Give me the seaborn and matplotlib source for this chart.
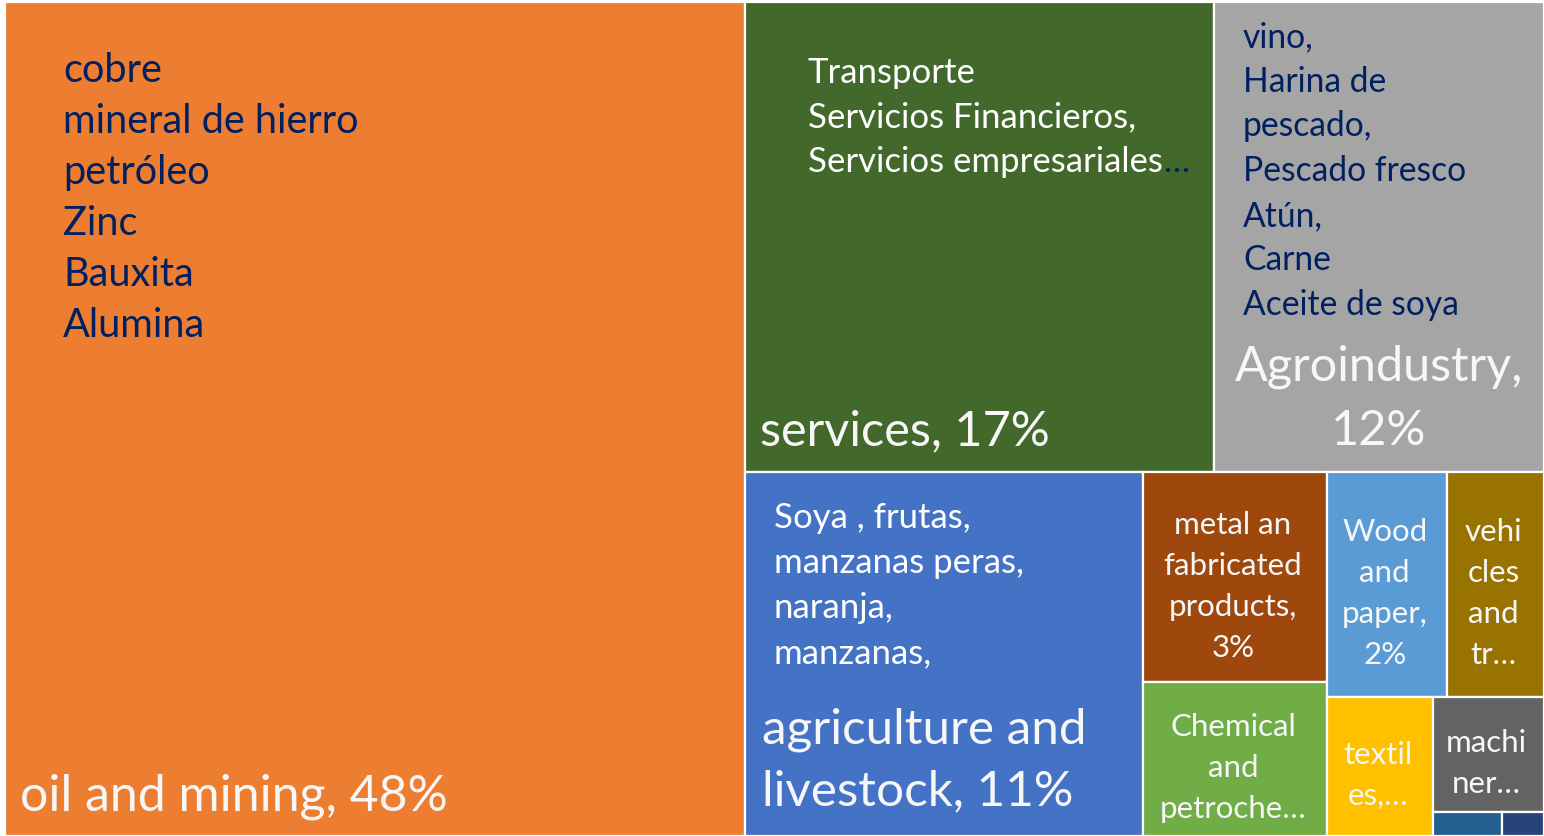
import matplotlib
matplotlib.use("Agg")
import matplotlib.pyplot as plt
import seaborn as sns
from matplotlib.patches import Rectangle

# export shares (%)
sectors = [
    "oil and mining",
    "services",
    "Agroindustry",
    "agriculture and livestock",
    "metal an fabricated products",
    "Chemical and petrochemical",
    "Wood and paper",
    "vehicles and transport",
    "textiles",
    "machinery",
    "other 1",
    "other 2",
]
shares = [48.1, 17.2, 12.1, 11.3, 3.0, 2.2, 2.1, 1.7, 1.15, 1.0, 0.13, 0.08]

# how many sectors go into each strip of the layout (as in the picture)
strips = [1, 2, 1, 2, 2, 1, 1, 1, 1]

colors = [
    "#ED7D31", "#43682B", "#A5A5A5", "#4472C4", "#9E480E", "#70AD47",
    "#5B9BD5", "#997300", "#FFC000", "#636363", "#255E91", "#264478",
]

oil_items = ["cobre", "mineral de hierro", "petróleo", "Zinc", "Bauxita", "Alumina"]
services_items = ["Transporte", "Servicios Financieros,", "Servicios empresariales"]
agro_items = ["vino,", "Harina de", "pescado,", "Pescado fresco", "Atún,", "Carne",
              "Aceite de soya"]
agri_items = ["Soya , frutas,", "manzanas peras,", "naranja,", "manzanas,"]

small_labels = {
    4: ["metal an", "fabricated", "products,", "3%"],
    5: ["Chemical", "and", "petroche…"],
    6: ["Wood", "and", "paper,", "2%"],
    7: ["vehi", "cles", "and", "tr…"],
    8: ["textil", "es,…"],
    9: ["machi", "ner…"],
}

NAVY = "#002060"
LIGHT = "#F7F7F7"


def strip_layout(areas, groups, x, y, w, h):
    # place each group as a strip along the shorter side of what is left
    rects = []
    i = 0
    for n in groups:
        chunk = areas[i:i + n]
        total = sum(chunk)
        if w >= h:
            cw = total / h
            yy = y
            for a in chunk:
                rects.append((x, yy, cw, a / cw))
                yy += a / cw
            x += cw
            w -= cw
        else:
            rh = total / w
            xx = x
            for a in chunk:
                rects.append((xx, y, a / rh, rh))
                xx += a / rh
            y += rh
            h -= rh
        i += n
    return rects


W, H = 1539.0, 834.0
total = sum(shares)
areas = [s / total * W * H for s in shares]
rects = strip_layout(areas, strips, 0, 0, W, H)

sns.set_style("white")
plt.rcParams["font.family"] = ["Lato", "DejaVu Sans"]

fig = plt.figure(figsize=(15.44, 8.36), dpi=100)
ax = fig.add_axes([5 / 1544, 0, 1539 / 1544, 834 / 836])
ax.set_xlim(0, W)
ax.set_ylim(H, 0)
ax.axis("off")

for (x, y, w, h), c in zip(rects, colors):
    ax.add_patch(Rectangle((x, y), w, h, facecolor=c, edgecolor="white", linewidth=1.6))


def lines(x, y0, items, step, size, color, ha="left"):
    out = []
    for k, t in enumerate(items):
        out.append(ax.text(x, y0 + k * step, t, ha=ha, va="baseline",
                           fontsize=size, color=color))
    return out


# oil and mining
x, y, w, h = rects[0]
lines(x + 58, y + 80, oil_items, 51, 28.6, NAVY)
ax.text(x + 15, y + h - 26, "oil and mining, 48%", ha="left", va="baseline",
        fontsize=36, color=LIGHT)

# services
x, y, w, h = rects[1]
t = lines(x + 63, y + 81, services_items, 44.5, 25, "white")
ax.annotate("…", xy=(1, 0), xycoords=t[-1], ha="left", va="bottom",
            fontsize=25, color=NAVY)
ax.text(x + 15, y + h - 27, "services, 17%", ha="left", va="baseline",
        fontsize=35, color=LIGHT)

# agroindustry
x, y, w, h = rects[2]
lines(x + 29, y + 45, agro_items, 44.7, 24.2, NAVY)
lines(x + w / 2, y + h - 92, ["Agroindustry,", "12%"], 65, 35, LIGHT, ha="center")

# agriculture and livestock
x, y, w, h = rects[3]
lines(x + 29, y + 56, agri_items, 45, 25, "white")
lines(x + 17, y + h - 93, ["agriculture and", "livestock, 11%"], 62, 35.6, LIGHT)

# small sectors, centred
for idx, items in small_labels.items():
    x, y, w, h = rects[idx]
    n = len(items)
    y0 = y + h / 2 + 7 - (n - 1) * 41 / 2 + 11
    lines(x + w / 2 - 2, y0, items, 41, 22.5, LIGHT, ha="center")

fig.savefig("out.png", dpi=100, facecolor="white")
